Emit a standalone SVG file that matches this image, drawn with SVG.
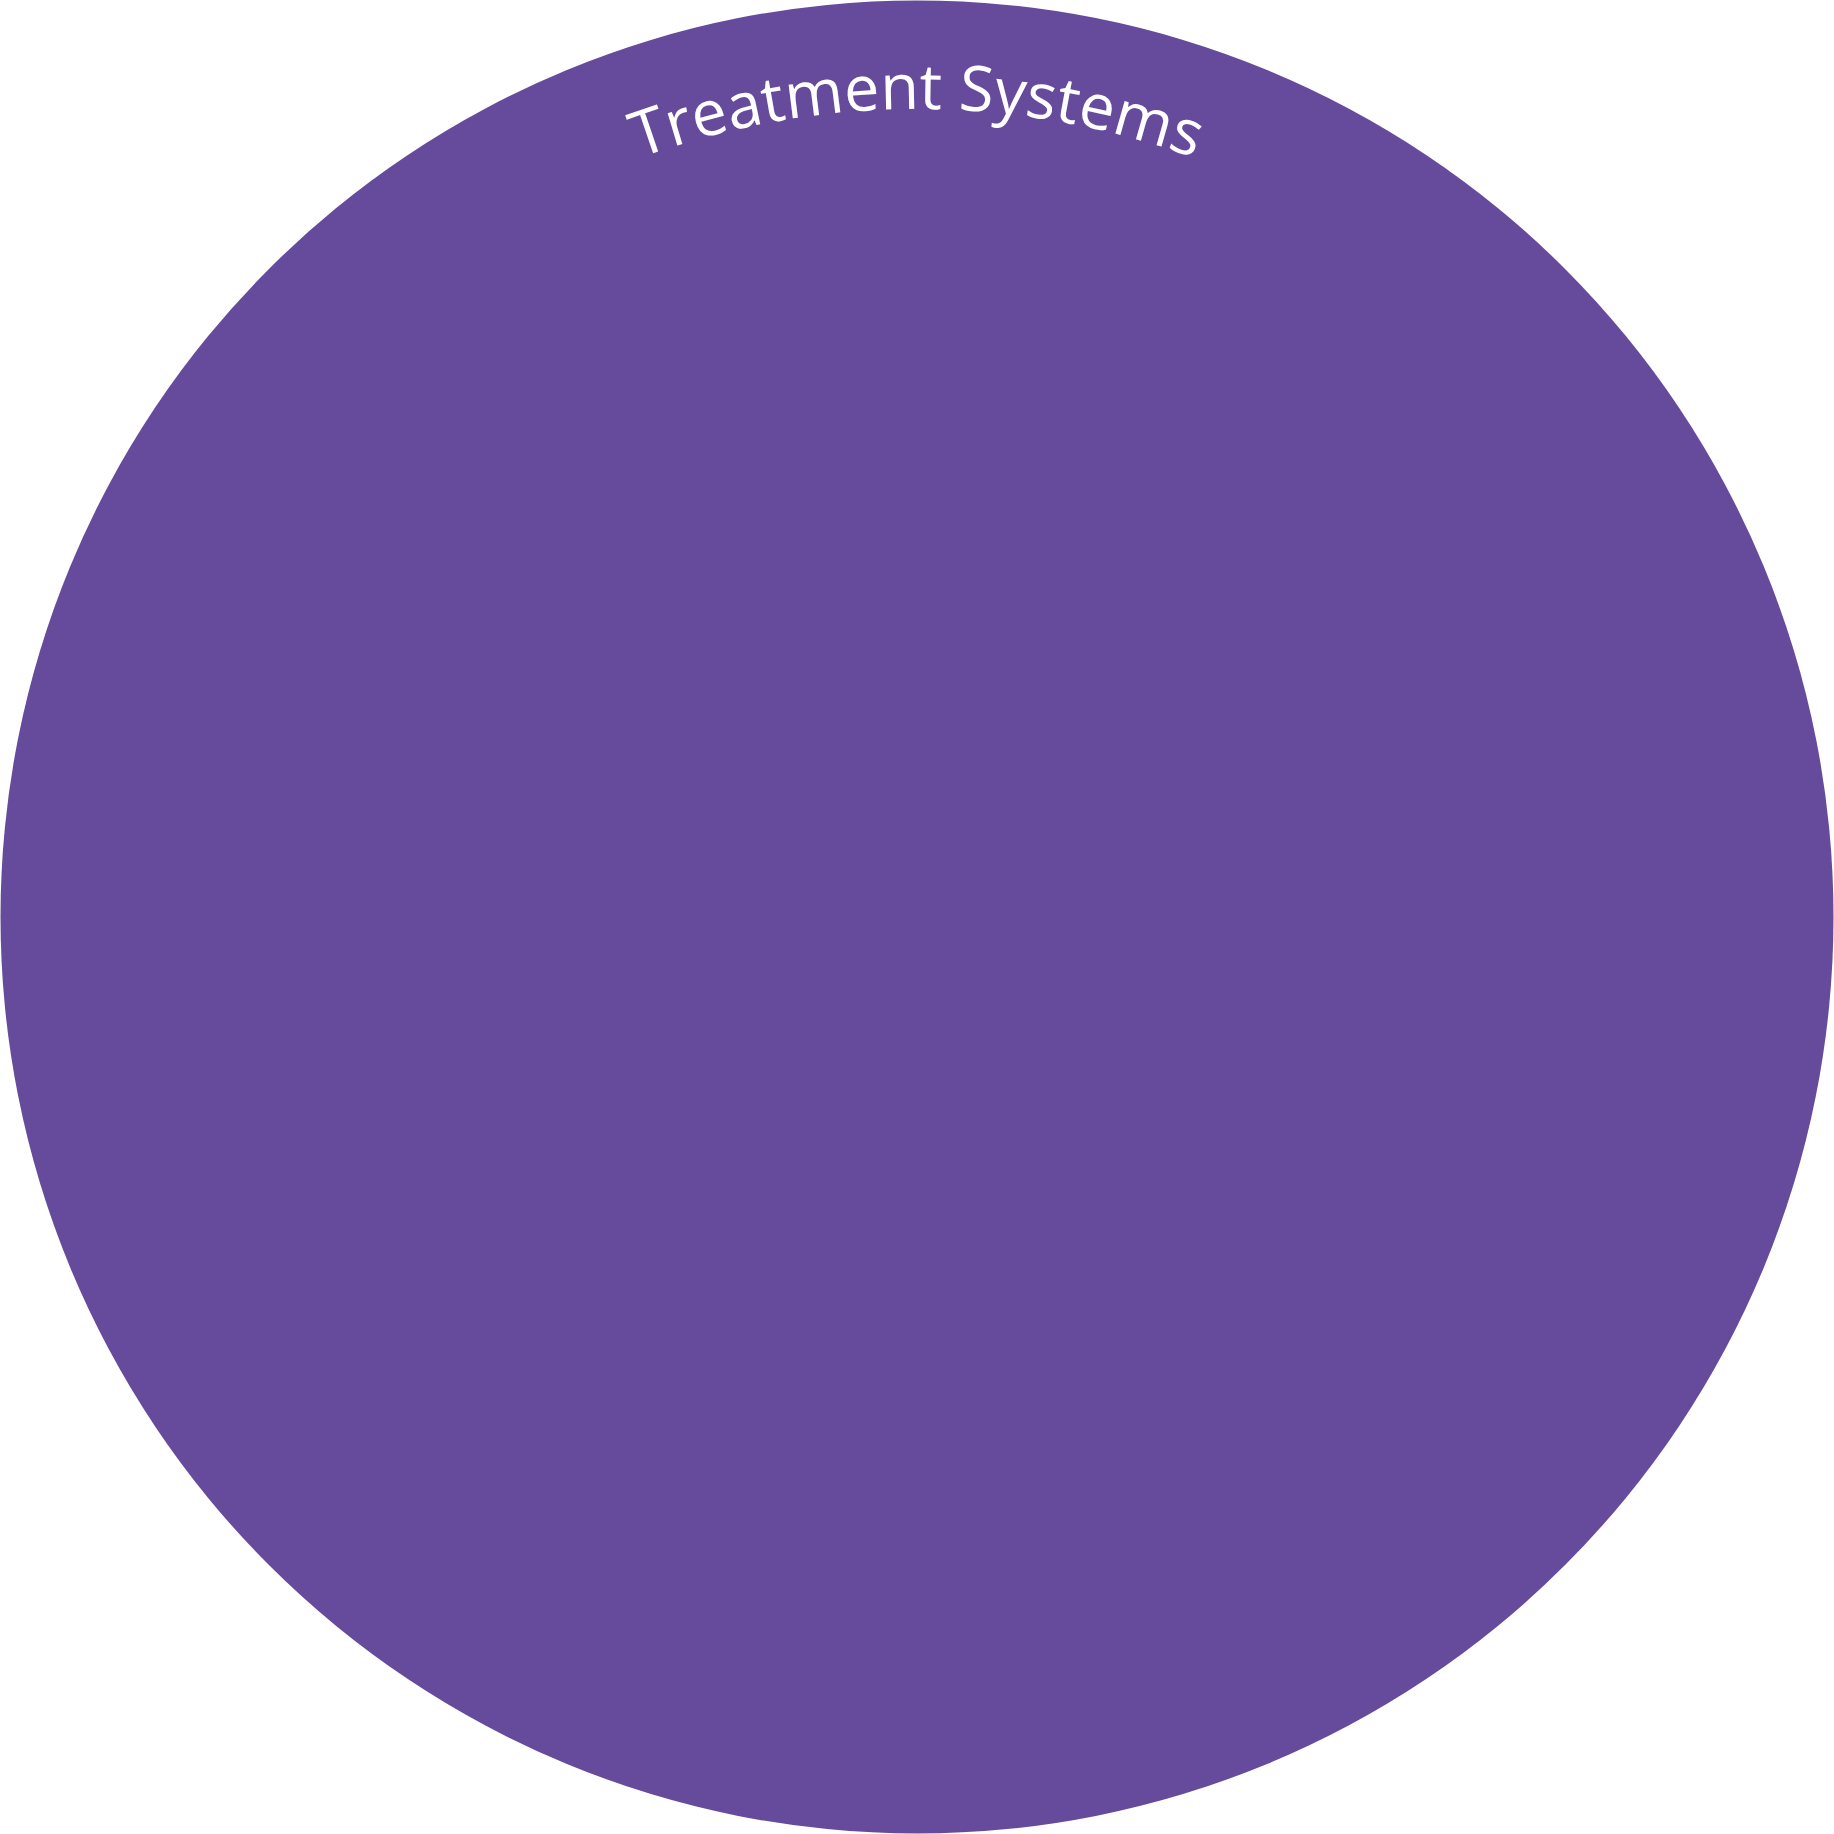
<svg xmlns="http://www.w3.org/2000/svg" width="1834" height="1834" viewBox="0 0 1834 1834">
  <style>
    .label { font-family: "Open Sans", "Liberation Sans", sans-serif; font-size: 63px; fill: #ffffff; }
  </style>
  <defs>
    <path id="arc" d="M 109,917 A 808,808 0 0 1 1725,917"/>
  </defs>
  <g id="treatment-systems">
    <circle cx="917" cy="917" r="916.5" fill="#664a9b"/>
    <text class="label"><textPath href="#arc" startOffset="50%" text-anchor="middle">Treatment Systems</textPath></text>
  </g>
</svg>
